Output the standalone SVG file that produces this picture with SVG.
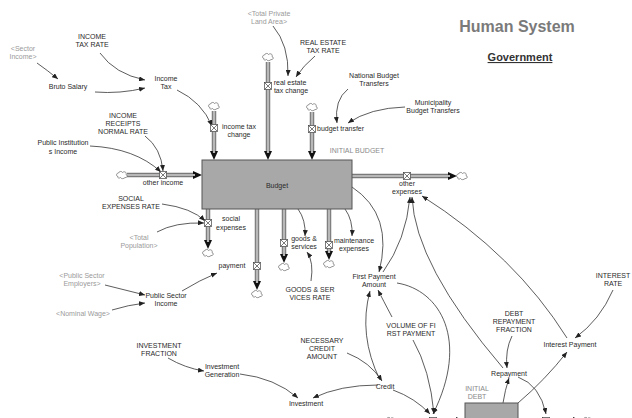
<svg xmlns="http://www.w3.org/2000/svg" width="632" height="418" viewBox="0 0 632 418">
<defs>
<style>
text{font-family:"Liberation Sans",Arial,sans-serif;font-size:7px;fill:#2a2a2a;text-anchor:middle}
.sh{fill:#9a9a9a}
.ini{fill:#8a8a8a}
.title{font-size:16px;font-weight:bold;fill:#7a7a7a}
.sub{font-size:11px;font-weight:bold;fill:#333;text-decoration:underline}
.po{fill:none;stroke:#7a7a7a;stroke-width:4.5}
.pi{fill:none;stroke:#b8b8b8;stroke-width:2.2}
.info{fill:none;stroke:#333;stroke-width:0.8;marker-end:url(#ia)}
.stock{fill:#a8a8a8;stroke:#555;stroke-width:1}
</style>
<marker id="pa" markerUnits="userSpaceOnUse" markerWidth="9" markerHeight="8" refX="2" refY="4" orient="auto"><path d="M0,0 L9,4 L0,8 Z" fill="#111"/></marker>
<marker id="ia" markerUnits="userSpaceOnUse" markerWidth="6" markerHeight="5" refX="6" refY="2.5" orient="auto"><path d="M0,0 L6,2.5 L0,5 Z" fill="#222"/></marker>
<symbol id="cloud" overflow="visible"><path d="M-4,1.5 C-6,1.5 -6,-2 -3.5,-2 C-3,-4 0,-4 0.5,-2.5 C2,-4 5,-3 4,-0.5 C6,0 5.5,3 3,2.5 C2,4 -1,4 -1.5,2.5 C-2.5,3.5 -5,3 -4,1.5 Z" fill="#fff" stroke="#666" stroke-width="0.7"/></symbol>
<symbol id="valve" overflow="visible"><rect x="-3.5" y="-3.5" width="7" height="7" fill="#fff" stroke="#444" stroke-width="0.7"/><path d="M-3.5,-3.5 L3.5,3.5 M3.5,-3.5 L-3.5,3.5" stroke="#444" stroke-width="0.7"/></symbol>
</defs>

<g id="connectors">
<path class="po" d="M214,111 V153" marker-end="url(#pa)"/><path class="pi" d="M214,111 V153"/>
<path class="po" d="M268,62 V153" marker-end="url(#pa)"/><path class="pi" d="M268,62 V153"/>
<path class="po" d="M312,112 V153" marker-end="url(#pa)"/><path class="pi" d="M312,112 V153"/>
<path class="po" d="M127,175 H195" marker-end="url(#pa)"/><path class="pi" d="M127,175 H195"/>
<path class="po" d="M208,209 V242" marker-end="url(#pa)"/><path class="pi" d="M208,209 V242"/>
<path class="po" d="M257,209 V283" marker-end="url(#pa)"/><path class="pi" d="M257,209 V283"/>
<path class="po" d="M284,209 V256" marker-end="url(#pa)"/><path class="pi" d="M284,209 V256"/>
<path class="po" d="M329,209 V253" marker-end="url(#pa)"/><path class="pi" d="M329,209 V253"/>
<path class="po" d="M352,176 H450" marker-end="url(#pa)"/><path class="pi" d="M352,176 H450"/>
<path class="po" d="M395,421 H458" marker-end="url(#pa)"/><path class="pi" d="M395,421 H458"/>
<path class="po" d="M518,421 H575" marker-end="url(#pa)"/><path class="pi" d="M518,421 H575"/>
<path class="info" d="M37,63 Q47,70 58,79"/>
<path class="info" d="M100,53 Q115,74 145,80"/>
<path class="info" d="M95,92 Q120,94 145,88"/>
<path class="info" d="M177,90 Q202,102 212,126"/>
<path class="info" d="M273,26 Q289,45 288,76"/>
<path class="info" d="M315,56 Q303,66 296,77"/>
<path class="info" d="M348,89 Q334,100 337,123"/>
<path class="info" d="M405,107 Q370,108 348,123"/>
<path class="info" d="M145,136 Q161,148 163,171"/>
<path class="info" d="M90,146 Q135,148 161,172"/>
<path class="info" d="M162,204 Q192,208 205,221"/>
<path class="info" d="M157,232 Q175,222 204,223"/>
<path class="info" d="M105,285 Q125,290 145,295"/>
<path class="info" d="M112,310 Q128,305 145,303"/>
<path class="info" d="M182,291 Q200,280 217,273"/>
<path class="info" d="M298,209 Q306,220 305,236"/>
<path class="info" d="M345,209 Q353,220 352,236"/>
<path class="info" d="M311,281 Q314,262 307,252"/>
<path class="info" d="M352,187 Q394,215 379,272"/>
<path class="info" d="M383,272 Q406,240 410,197"/>
<path class="info" d="M503,368 Q415,265 412,197"/>
<path class="info" d="M567,338 Q515,255 422,196"/>
<path class="info" d="M380,380 Q358,335 370,291"/>
<path class="info" d="M392,317 Q383,300 378,290"/>
<path class="info" d="M347,353 Q370,362 382,381"/>
<path class="info" d="M378,385 Q340,385 313,398"/>
<path class="info" d="M240,374 Q275,378 298,398"/>
<path class="info" d="M168,358 Q185,368 204,371"/>
<path class="info" d="M397,283 C440,290 470,340 433,414"/>
<path class="info" d="M413,340 Q430,370 434,414"/>
<path class="info" d="M393,390 Q415,398 430,414"/>
<path class="info" d="M512,336 Q505,350 507,368"/>
<path class="info" d="M503,403 Q505,390 509,378"/>
<path class="info" d="M518,403 Q545,380 567,352"/>
<path class="info" d="M518,377 Q540,385 546,414"/>
<path class="info" d="M613,290 Q600,320 575,338"/>
</g>

<g id="title"><text class="title" x="517" y="32">Human System</text><text class="sub" x="520" y="61">Government</text></g>

<g id="budget"><rect class="stock" x="202" y="160" width="150" height="49"/><text x="277" y="188">Budget</text></g>
<g id="initial-budget"><text class="ini" x="357" y="153">INITIAL BUDGET</text></g>
<g id="financial-debt"><rect class="stock" x="465" y="403" width="53" height="22"/></g>
<g id="initial-debt"><text class="ini" x="477" y="391">INITIAL</text><text class="ini" x="477" y="399">DEBT</text></g>

<g id="clouds">
<use href="#cloud" x="214" y="106"/><use href="#cloud" x="268" y="57"/><use href="#cloud" x="312" y="107"/>
<use href="#cloud" x="122" y="175"/><use href="#cloud" x="208" y="253"/><use href="#cloud" x="257" y="294"/>
<use href="#cloud" x="284" y="267"/><use href="#cloud" x="329" y="264"/><use href="#cloud" x="462" y="176"/>
<use href="#cloud" x="390" y="421"/><use href="#cloud" x="587" y="421"/>
</g>

<g id="income-tax-change"><use href="#valve" x="214" y="128"/><text x="239" y="129">income tax</text><text x="239" y="137">change</text></g>
<g id="real-estate-tax-change"><use href="#valve" x="268" y="86"/><text x="290" y="85">real estate</text><text x="291" y="93">tax change</text></g>
<g id="budget-transfer"><use href="#valve" x="312" y="129"/><text x="317" y="131" style="text-anchor:start">budget transfer</text></g>
<g id="other-income"><use href="#valve" x="163" y="175"/><text x="163" y="185">other income</text></g>
<g id="social-expenses"><use href="#valve" x="208" y="223"/><text x="231" y="221">social</text><text x="231" y="230">expenses</text></g>
<g id="payment"><use href="#valve" x="257" y="266"/><text x="232" y="268">payment</text></g>
<g id="goods-services"><use href="#valve" x="284" y="243"/><text x="304" y="241">goods &amp;</text><text x="304" y="249">services</text></g>
<g id="maintenance-expenses"><use href="#valve" x="329" y="245"/><text x="354" y="243">maintenance</text><text x="354" y="251">expenses</text></g>
<g id="other-expenses"><use href="#valve" x="407" y="176"/><text x="407" y="186">other</text><text x="407" y="194">expenses</text></g>
<g id="debt-inflow"><use href="#valve" x="433" y="421"/></g>
<g id="debt-outflow"><use href="#valve" x="546" y="421"/></g>

<g id="sector-income"><text class="sh" x="23" y="51">&lt;Sector</text><text class="sh" x="23" y="59">Income&gt;</text></g>
<g id="income-tax-rate"><text x="92" y="39">INCOME</text><text x="92" y="47">TAX RATE</text></g>
<g id="bruto-salary"><text x="68" y="89">Bruto Salary</text></g>
<g id="income-tax"><text x="166" y="81">Income</text><text x="166" y="89">Tax</text></g>
<g id="total-private-land-area"><text class="sh" x="269" y="16">&lt;Total Private</text><text class="sh" x="269" y="24">Land Area&gt;</text></g>
<g id="real-estate-tax-rate"><text x="323" y="45">REAL ESTATE</text><text x="323" y="53">TAX RATE</text></g>
<g id="national-budget-transfers"><text x="374" y="78">National Budget</text><text x="374" y="86">Transfers</text></g>
<g id="municipality-budget-transfers"><text x="433" y="105">Municipality</text><text x="433" y="113">Budget Transfers</text></g>
<g id="income-receipts-normal-rate"><text x="123" y="118">INCOME</text><text x="123" y="126">RECEIPTS</text><text x="123" y="134">NORMAL RATE</text></g>
<g id="public-institutions-income"><text x="63" y="145">Public Institution</text><text x="63" y="154">s Income</text></g>
<g id="social-expenses-rate"><text x="131" y="201">SOCIAL</text><text x="131" y="209">EXPENSES RATE</text></g>
<g id="total-population"><text class="sh" x="139" y="240">&lt;Total</text><text class="sh" x="139" y="248">Population&gt;</text></g>
<g id="public-sector-employers"><text class="sh" x="82" y="278">&lt;Public Sector</text><text class="sh" x="82" y="286">Employers&gt;</text></g>
<g id="nominal-wage"><text class="sh" x="83" y="316">&lt;Nominal Wage&gt;</text></g>
<g id="public-sector-income"><text x="166" y="298">Public Sector</text><text x="166" y="306">Income</text></g>
<g id="goods-services-rate"><text x="310" y="292">GOODS &amp; SER</text><text x="310" y="300">VICES RATE</text></g>
<g id="first-payment-amount"><text x="374" y="279">First Payment</text><text x="374" y="287">Amount</text></g>
<g id="volume-first-payment"><text x="411" y="328">VOLUME OF FI</text><text x="411" y="336">RST PAYMENT</text></g>
<g id="necessary-credit-amount"><text x="322" y="343">NECESSARY</text><text x="322" y="351">CREDIT</text><text x="322" y="359">AMOUNT</text></g>
<g id="credit"><text x="385" y="389">Credit</text></g>
<g id="investment"><text x="306" y="406">Investment</text></g>
<g id="investment-generation"><text x="222" y="369">Investment</text><text x="222" y="377">Generation</text></g>
<g id="investment-fraction"><text x="159" y="348">INVESTMENT</text><text x="159" y="356">FRACTION</text></g>
<g id="debt-repayment-fraction"><text x="514" y="316">DEBT</text><text x="514" y="324">REPAYMENT</text><text x="514" y="332">FRACTION</text></g>
<g id="repayment"><text x="509" y="376">Repayment</text></g>
<g id="interest-payment"><text x="570" y="347">Interest Payment</text></g>
<g id="interest-rate"><text x="613" y="278">INTEREST</text><text x="613" y="286">RATE</text></g>
</svg>
